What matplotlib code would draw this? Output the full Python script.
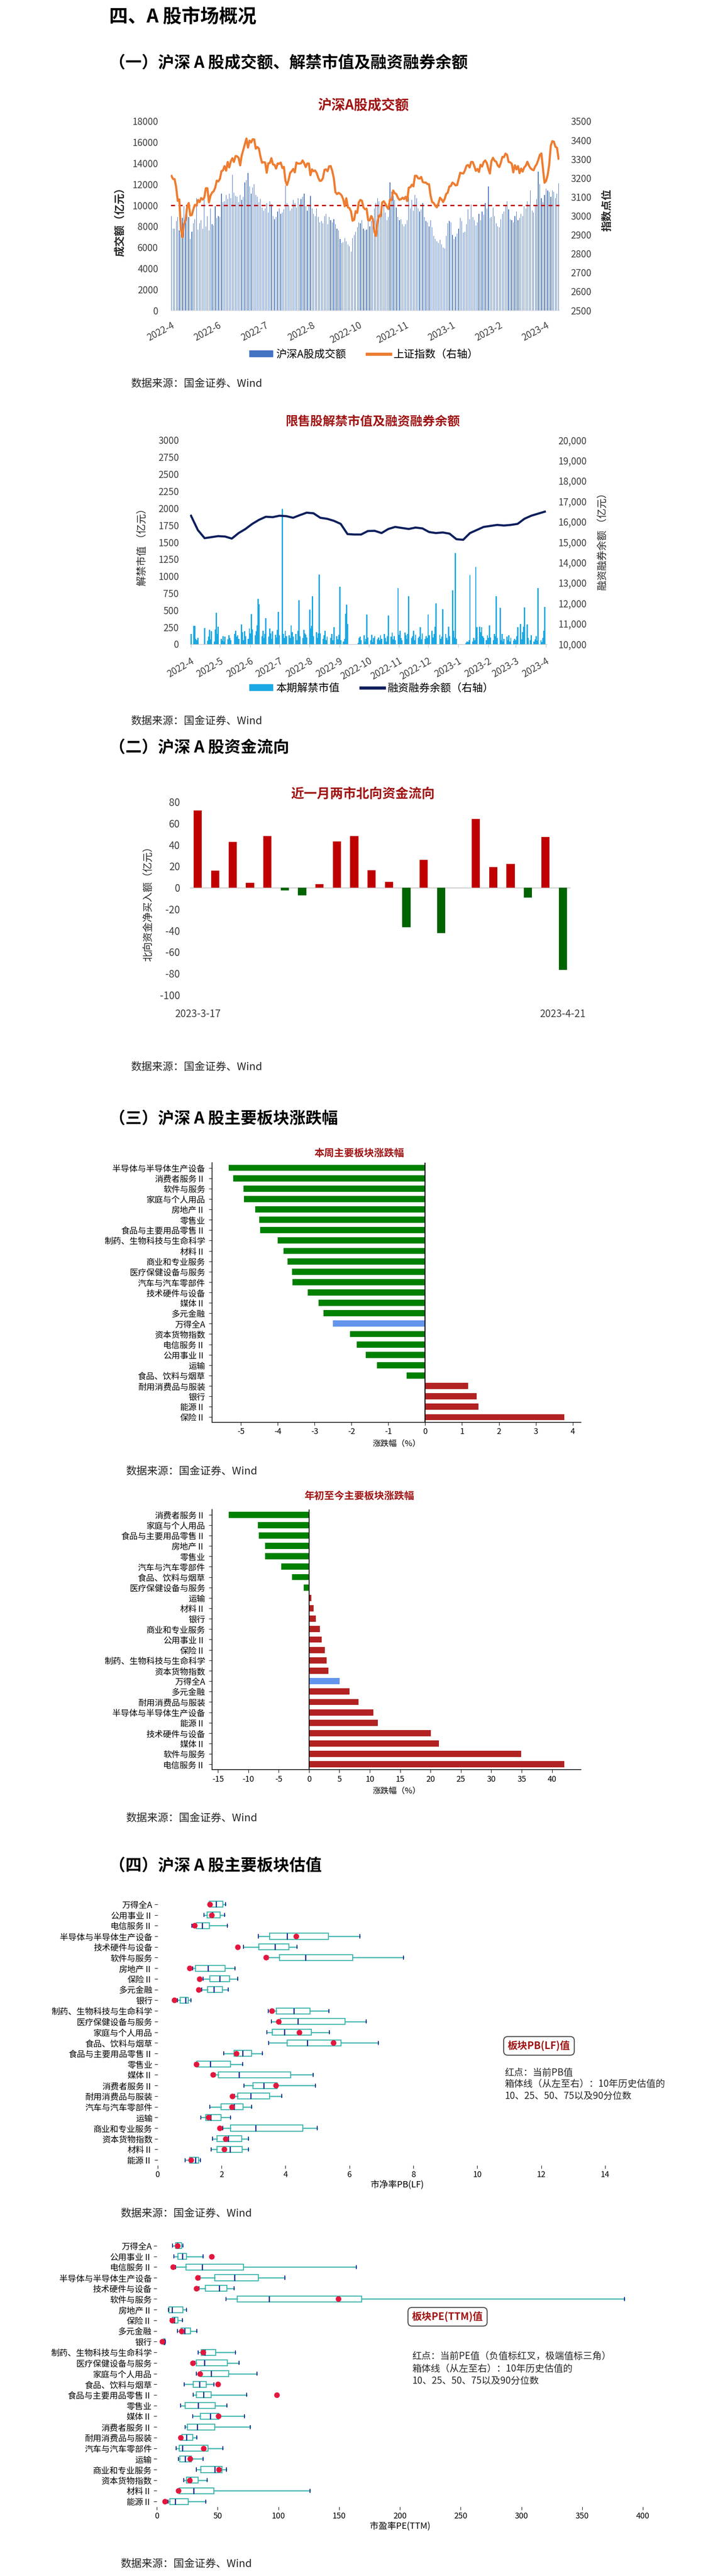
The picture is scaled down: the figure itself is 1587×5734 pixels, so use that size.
import numpy as np
import pandas as pd
import matplotlib
matplotlib.use("Agg")
import matplotlib.pyplot as plt
from matplotlib.patches import Patch
from matplotlib.lines import Line2D

plt.rcParams['font.family'] = ['Noto Sans CJK SC', 'DejaVu Sans']
plt.rcParams['axes.unicode_minus'] = False

# ---------------- data ----------------
holidays = ['2022-05-02', '2022-05-03', '2022-05-04', '2022-06-03', '2022-09-12',
            '2022-10-03', '2022-10-04', '2022-10-05', '2022-10-06', '2022-10-07',
            '2023-01-02', '2023-01-23', '2023-01-24', '2023-01-25', '2023-01-26',
            '2023-01-27', '2023-04-05']

# A-share daily turnover (100m yuan), 2022-4-15 .. 2023-4-21
vol = [9000, 7800, 7800, 8500, 8900, 7600, 9200, 8800, 9900, 8600, 9700,
       8900, 6800, 7500, 8300, 8700, 10700, 7700, 8300, 8600, 7800, 10800, 8000, 9000, 7600, 9700, 8200, 8100, 9900, 8800,
       9000, 8900, 11100, 10300, 10400, 11000, 10600, 11100, 10700, 12900, 11200, 10900, 10800, 10300, 11000, 10500, 10800, 12200, 12400, 13100, 11800,
       11100, 11700, 12000, 11000, 10800, 10300, 10600, 9800, 9500, 9700, 10200, 9300, 10400, 10100, 9000, 8700, 8900, 9400, 9700, 9200, 9300,
       9600, 11900, 10200, 10000, 9500, 9700, 10500, 10200, 9800, 10700, 10100, 10600, 10800, 11100, 9900, 9500, 10000, 10900, 9700, 9200, 9000, 9700, 8900,
       8400, 8500, 8300, 9000, 9200, 8200, 8900, 8600, 8400, 8700, 8200, 7800, 7600, 6800, 6400, 6500, 6900, 6600, 6300, 6100, 5600,
       6900, 7200, 7500, 7900, 8400, 8300, 8600, 7800, 7600, 7700, 8700, 8000, 8500, 9000, 9700, 10200,
       10700, 10400, 9100, 9600, 9900, 9300, 8600, 8900, 12200, 11300, 10900, 10500, 9800, 8900, 8600, 8700, 8200, 8000, 8200, 8600, 10800, 9700,
       10500, 9500, 11000, 10700, 9700, 9400, 9600, 10200, 8900, 8500, 8400, 8000, 8600, 7900, 7100, 6800, 6600, 6400, 6700, 6300, 6000, 5900,
       7100, 8300, 8500, 8400, 7200, 6800, 7000, 7300, 7800, 8800, 8500, 7400, 7500, 8200, 9600, 8700,
       10100, 8900, 8600, 8100, 8400, 9200, 8600, 9400, 9100, 10200, 9700, 11800, 8800, 8900, 9800, 9000, 8300, 8000, 7900, 8700,
       9200, 9400, 10000, 10400, 9600, 8700, 8600, 8400, 9000, 9400, 8600, 8800, 9200, 9000, 9900, 9700, 10400, 9900, 11400, 9500, 9300, 10000, 10600,
       13200, 12000, 10700, 10300, 11000, 11600, 11400, 11300, 10800, 11400, 11300, 10700, 11100, 12100]

# Shanghai composite close
sse = [3211, 3195, 3194, 3151, 3079, 3087, 2929, 2886, 2958, 2975, 3047,
       3068, 3002, 3004, 3035, 3058, 3054, 3084, 3073, 3094, 3086, 3096, 3146, 3146, 3071, 3107, 3123, 3130, 3149, 3186,
       3182, 3195, 3236, 3241, 3263, 3239, 3285, 3256, 3288, 3305, 3285, 3316, 3315, 3307, 3267, 3320, 3349, 3379, 3409, 3361, 3398,
       3388, 3405, 3404, 3355, 3364, 3356, 3313, 3281, 3284, 3282, 3228, 3278, 3279, 3305, 3272, 3270, 3250, 3277, 3275, 3282, 3253,
       3259, 3186, 3163, 3189, 3227, 3236, 3248, 3230, 3282, 3277, 3276, 3278, 3293, 3278, 3258, 3277, 3277, 3215, 3246, 3236, 3240, 3227, 3202,
       3185, 3186, 3199, 3243, 3246, 3236, 3262, 3263, 3237, 3199, 3126, 3115, 3122, 3117, 3108, 3088, 3051, 3093, 3045, 3041, 3024,
       2974, 2979, 3025, 3016, 3071, 3084, 3080, 3044, 3035, 3038, 2977, 2976, 2999, 2982, 2916, 2893,
       2969, 3003, 2997, 3071, 3077, 3064, 3048, 3036, 3087, 3083, 3134, 3120, 3115, 3097, 3085, 3088, 3096, 3089, 3101, 3078, 3149, 3151,
       3165, 3156, 3212, 3212, 3199, 3197, 3206, 3179, 3176, 3176, 3168, 3167, 3107, 3073, 3068, 3054, 3045, 3065, 3096, 3087, 3073, 3089,
       3116, 3123, 3155, 3158, 3176, 3170, 3161, 3163, 3195, 3228, 3225, 3224, 3240, 3265, 3269, 3256,
       3285, 3285, 3263, 3238, 3248, 3232, 3270, 3261, 3284, 3293, 3280, 3249, 3224, 3290, 3307, 3291, 3287, 3267, 3258, 3280,
       3312, 3310, 3329, 3323, 3285, 3283, 3276, 3230, 3268, 3246, 3263, 3226, 3250, 3234, 3256, 3265, 3286, 3266, 3252, 3245, 3241, 3261, 3273,
       3296, 3322, 3330, 3250, 3175, 3185, 3215, 3270, 3370, 3395, 3392, 3365, 3360, 3302]

# lifted restricted shares (100m yuan), 2022-4-22 .. 2023-4-21
unlock = [150, 270, 270, 80, 60, 90,
          0, 240, 50, 110, 210, 70, 190, 40, 220, 465, 150, 260, 80, 50, 120, 40, 110, 70, 130,
          90, 60, 150, 200, 110, 130, 80, 290, 180, 60, 190, 120, 80, 230, 160, 445, 220, 130, 190, 280, 666,
          590, 120, 200, 90, 150, 380, 110, 230, 160, 80, 190, 140, 100, 210, 474, 130, 1990, 150, 90, 200, 120,
          130, 90, 280, 180, 110, 150, 60, 200, 645, 120, 90, 210, 160, 140, 100, 510, 230, 270, 710, 120, 180, 90, 160,
          1025, 160, 80, 130, 200, 60, 110, 90, 150, 60, 250, 120, 70, 140, 849, 60, 40, 80, 451, 580, 300,
          0, 20, 90, 110, 60, 130, 40, 80, 436, 100, 60, 140, 30, 90, 120, 70,
          100, 60, 130, 80, 150, 90, 40, 120, 424, 110, 170, 70, 120, 60, 828, 140, 200, 90, 60, 170, 130, 80,
          150, 704, 90, 120, 200, 60, 140, 90, 110, 250, 70, 160, 80, 120, 90, 436, 130, 200, 100, 150, 260, 604,
          140, 80, 110, 513, 150, 90, 60, 260, 120, 790, 200, 100, 1344, 80, 20, 40,
          30, 60, 1020, 40, 90, 60, 1137, 250, 260, 180, 250, 120, 90, 60, 130, 90, 280, 100, 60, 150,
          120, 710, 90, 533, 60, 150, 40, 80, 110, 60, 130, 40, 90, 50, 80, 60, 120, 250, 300, 70, 180, 260, 542,
          290, 90, 60, 130, 40, 70, 120, 50, 828, 60, 30, 90, 200, 548]

# margin balance, weekly (Fridays)
margin = [16300, 15600, 15200, 15250, 15300, 15280, 15180, 15450, 15650, 15900, 16100, 16250, 16230,
          16300, 16280, 16200, 16330, 16450, 16420, 16200, 16150, 16050, 15900, 15400, 15380, 15380,
          15550, 15560, 15450, 15650, 15750, 15700, 15650, 15720, 15680, 15500, 15450, 15480, 15420,
          15150, 15120, 15450, 15600, 15750, 15800, 15850, 15820, 15850, 15900, 16150, 16300, 16400, 16500]

nb_flow = [71.9, 15.9, 42.7, 4.7, 48.1, -2.4, -7.1, 3.6, 43.3, 48.1, 16.3,
           5.6, -36.7, 26.2, -42.1, 0.0, 64.2, 19.1, 22.3, -9.2, 47.2, -76.6]
nb_labels = ['2023-3-17', '2023-4-21']

week_labels = ['半导体与半导体生产设备', '消费者服务Ⅱ', '软件与服务', '家庭与个人用品', '房地产Ⅱ', '零售业',
               '食品与主要用品零售Ⅱ', '制药、生物科技与生命科学', '材料Ⅱ', '商业和专业服务', '医疗保健设备与服务',
               '汽车与汽车零部件', '技术硬件与设备', '媒体Ⅱ', '多元金融', '万得全A', '资本货物指数', '电信服务Ⅱ',
               '公用事业Ⅱ', '运输', '食品、饮料与烟草', '耐用消费品与服装', '银行', '能源Ⅱ', '保险Ⅱ']
week_chg = [-5.33, -5.21, -4.93, -4.92, -4.62, -4.50, -4.48, -4.01, -3.85, -3.74, -3.61, -3.60, -3.19,
            -2.89, -2.76, -2.51, -2.04, -1.86, -1.62, -1.31, -0.50, 1.17, 1.40, 1.45, 3.77]

ytd_labels = ['消费者服务Ⅱ', '家庭与个人用品', '食品与主要用品零售Ⅱ', '房地产Ⅱ', '零售业', '汽车与汽车零部件',
              '食品、饮料与烟草', '医疗保健设备与服务', '运输', '材料Ⅱ', '银行', '商业和专业服务', '公用事业Ⅱ',
              '保险Ⅱ', '制药、生物科技与生命科学', '资本货物指数', '万得全A', '多元金融', '耐用消费品与服装',
              '半导体与半导体生产设备', '能源Ⅱ', '技术硬件与设备', '媒体Ⅱ', '软件与服务', '电信服务Ⅱ']
ytd_chg = [-13.2, -8.44, -8.24, -7.24, -7.22, -4.57, -2.83, -0.84, 0.40, 0.75, 1.14, 1.79, 2.09,
           2.58, 2.93, 3.23, 5.07, 6.70, 8.13, 10.57, 11.32, 20.05, 21.4, 34.9, 42.0]

val_labels = ['万得全A', '公用事业Ⅱ', '电信服务Ⅱ', '半导体与半导体生产设备', '技术硬件与设备', '软件与服务',
              '房地产Ⅱ', '保险Ⅱ', '多元金融', '银行', '制药、生物科技与生命科学', '医疗保健设备与服务',
              '家庭与个人用品', '食品、饮料与烟草', '食品与主要用品零售Ⅱ', '零售业', '媒体Ⅱ', '消费者服务Ⅱ',
              '耐用消费品与服装', '汽车与汽车零部件', '运输', '商业和专业服务', '资本货物指数', '材料Ⅱ', '能源Ⅱ']

pb_p10 = [1.60, 1.46, 1.08, 3.15, 2.69, 3.46, 1.10, 1.42, 1.38, 0.63, 3.46, 3.56, 3.42, 3.48, 2.07, 1.18, 1.80, 2.70, 2.41, 1.63, 1.36, 2.05, 1.72, 1.68, 0.86]
pb_p25 = [1.62, 1.55, 1.22, 3.50, 3.17, 3.81, 1.19, 1.64, 1.57, 0.71, 3.72, 3.85, 3.59, 4.05, 2.39, 1.23, 1.90, 2.98, 2.51, 1.99, 1.51, 2.28, 1.86, 1.86, 1.01]
pb_p50 = [1.84, 1.72, 1.40, 4.05, 3.67, 4.63, 1.58, 1.94, 1.76, 0.88, 4.27, 4.39, 3.97, 4.68, 2.66, 1.65, 2.55, 3.32, 2.91, 2.40, 1.66, 3.07, 2.21, 2.27, 1.19]
pb_p75 = [2.04, 1.96, 1.62, 5.35, 4.11, 6.10, 2.11, 2.25, 2.03, 0.96, 4.77, 5.87, 4.81, 5.74, 2.94, 2.28, 4.17, 3.75, 3.50, 2.68, 1.99, 4.55, 2.64, 2.65, 1.28]
pb_p90 = [2.13, 2.10, 2.18, 6.33, 4.36, 7.70, 2.43, 2.51, 2.22, 1.04, 5.36, 6.52, 5.38, 6.91, 3.28, 2.66, 4.87, 4.94, 3.89, 2.95, 2.28, 5.00, 2.84, 2.84, 1.34]
pb_now = [1.63, 1.69, 1.16, 4.33, 2.51, 3.40, 1.01, 1.32, 1.29, 0.53, 3.58, 3.79, 4.43, 5.50, 2.47, 1.22, 1.74, 3.70, 2.34, 2.32, 1.59, 1.95, 2.13, 2.09, 1.05]

pe_p10 = [12.8, 13.9, 15.4, 35.6, 34.6, 57.0, 9.6, 11.1, 16.9, 5.3, 34.1, 31.4, 32.6, 22.4, 30.1, 19.6, 29.4, 23.3, 20.7, 16.0, 17.7, 32.4, 22.0, 18.6, 9.4]
pe_p25 = [15.6, 17.5, 24.1, 47.6, 39.9, 66.1, 10.0, 12.8, 20.1, 5.5, 36.7, 32.4, 36.3, 30.1, 32.6, 23.3, 35.8, 25.2, 20.7, 18.6, 18.8, 36.3, 24.3, 18.6, 10.7]
pe_p50 = [17.1, 20.9, 37.3, 63.8, 51.4, 92.4, 12.4, 14.5, 23.0, 6.2, 39.5, 39.2, 44.8, 35.2, 38.4, 34.1, 43.9, 33.1, 24.5, 20.9, 23.3, 47.6, 27.7, 30.3, 15.1]
pe_p75 = [20.3, 24.5, 71.2, 83.6, 57.8, 168.7, 21.3, 17.5, 27.7, 6.6, 48.6, 58.2, 59.3, 40.7, 44.6, 48.2, 51.0, 47.6, 29.4, 42.0, 28.4, 53.5, 34.1, 46.9, 25.8]
pe_p90 = [21.3, 38.0, 164.3, 105.2, 63.6, 385.0, 24.5, 20.9, 32.8, 7.0, 64.6, 67.8, 82.3, 47.1, 74.0, 57.8, 72.1, 76.8, 32.8, 54.2, 38.0, 57.2, 41.4, 125.9, 40.3]
pe_now = [17.1, 45.0, 13.2, 33.5, 32.6, 149.3, np.nan, 12.6, 20.5, 4.5, 38.0, 29.4, 35.6, 50.3, 98.8, np.nan, 50.8, np.nan, 19.6, 38.6, 27.3, 51.0, 27.1, 17.9, 6.8]

# ---------------- layout helpers (pixel coords, y from top) ----------------
W, H = 1587, 5734
fig = plt.figure(figsize=(W / 100, H / 100), dpi=100)

DARKRED = '#A01414'
TXT = '#262626'


def add_ax(l, t, r, b):
    return fig.add_axes([l / W, 1 - b / H, (r - l) / W, (b - t) / H])


def ftext(x, y, s, **kw):
    kw.setdefault('va', 'center')
    kw.setdefault('color', TXT)
    return fig.text(x / W, 1 - y / H, s, **kw)


def source(x, y):
    ftext(x, y, '数据来源：国金证券、Wind', fontsize=17)


def fig_legend(ax, handles, labels, x, y):
    ax.legend(handles, labels, loc='center', bbox_to_anchor=(x / W, 1 - y / H),
              bbox_transform=fig.transFigure, ncol=2, frameon=False, fontsize=17,
              handlelength=2.2, handleheight=0.55, columnspacing=2.0, handletextpad=0.3)


days = pd.bdate_range('2022-04-15', '2023-04-21')
days = days[~days.isin(pd.to_datetime(holidays))]

# ---------------- headings ----------------
ftext(243, 37, '四、A 股市场概况', fontsize=30, weight='bold', color='black')
ftext(243, 141, '（一）沪深 A 股成交额、解禁市值及融资融券余额', fontsize=26, weight='bold', color='black')
ftext(243, 1664, '（二）沪深 A 股资金流向', fontsize=26, weight='bold', color='black')
ftext(243, 2490, '（三）沪深 A 股主要板块涨跌幅', fontsize=26, weight='bold', color='black')
ftext(243, 4153, '（四）沪深 A 股主要板块估值', fontsize=26, weight='bold', color='black')

# ---------------- chart 1: turnover + index ----------------
ftext(808, 235, '沪深A股成交额', fontsize=22, weight='bold', color=DARKRED, ha='center')
ax = add_ax(380, 270, 1245, 691)
x1 = np.arange(len(vol))
ax.bar(x1, vol, width=0.35, color='#4472C4', linewidth=0)
ax.axhline(10000, color='#C00000', lw=2.2, ls=(0, (3, 2.5)), zorder=4)
ax.set_xlim(-0.5, len(vol) - 0.5)
ax.set_ylim(0, 18000)
ax.set_yticks(np.arange(0, 18001, 2000))
tick_idx = np.arange(0, len(vol), 30)
ax.set_xticks(tick_idx)
ax.set_xticklabels([f'{d.year}-{d.month}' for d in days[tick_idx]], rotation=28,
                   ha='right', rotation_mode='anchor')
for s in ['top', 'left', 'right']:
    ax.spines[s].set_visible(False)
ax.spines['bottom'].set_color('#D9D9D9')
ax.tick_params(axis='both', length=0, labelsize=15, labelcolor='#404040')
ax.tick_params(axis='y', pad=20)
ax.tick_params(axis='x', pad=16)
axr = ax.twinx()
axr.plot(x1, sse, color='#ED7D31', lw=3.4)
axr.set_ylim(2500, 3500)
axr.set_yticks(np.arange(2500, 3501, 100))
for s in axr.spines.values():
    s.set_visible(False)
axr.tick_params(length=0, labelsize=15, pad=18, labelcolor='#404040')
ftext(268, 488, '成交额（亿元）', fontsize=17, weight='bold', rotation=90, ha='center')
ftext(1351, 468, '指数点位', fontsize=17, weight='bold', rotation=90, ha='center')
fig_legend(axr, [Patch(color='#4472C4'), Line2D([], [], color='#ED7D31', lw=5)],
           ['沪深A股成交额', '上证指数（右轴）'], 810, 789)
source(291, 854)

# ---------------- chart 2: unlock + margin ----------------
ftext(830, 939, '限售股解禁市值及融资融券余额', fontsize=20, weight='bold', color=DARKRED, ha='center')
ax = add_ax(423, 980, 1217, 1434)
days2 = days[days >= pd.Timestamp('2022-04-22')]
ax.bar(days2, unlock, width=1.3, color='#1CA8E3', linewidth=0)
ax.set_ylim(0, 3000)
ax.set_yticks(np.arange(0, 3001, 250))
ax.set_xlim(pd.Timestamp('2022-04-21'), pd.Timestamp('2023-04-23'))
ticks2 = pd.date_range('2022-04-22', periods=13, freq=pd.DateOffset(months=1))
ax.set_xticks(ticks2)
ax.set_xticklabels([f'{d.year}-{d.month}' for d in ticks2], rotation=30,
                   ha='right', rotation_mode='anchor')
for s in ['top', 'left', 'right']:
    ax.spines[s].set_visible(False)
ax.spines['bottom'].set_color('#BFBFBF')
ax.tick_params(axis='x', length=5, color='#BFBFBF', labelsize=15, pad=14, labelcolor='#404040')
ax.tick_params(axis='y', length=0, labelsize=15, pad=18, labelcolor='#404040')
axr = ax.twinx()
margin_days = pd.date_range('2022-04-22', '2023-04-21', freq='W-FRI')
axr.plot(margin_days, margin, color='#0D1F5C', lw=3.4)
axr.set_ylim(10000, 20000)
axr.set_yticks(np.arange(10000, 20001, 1000))
axr.set_yticklabels([f'{v:,}' for v in range(10000, 20001, 1000)])
for s in axr.spines.values():
    s.set_visible(False)
axr.tick_params(length=0, labelsize=15, pad=18, labelcolor='#404040')
ftext(316, 1213, '解禁市值 （亿元）', fontsize=16, rotation=90, ha='center')
ftext(1341, 1200, '融资融券余额 （亿元）', fontsize=16, rotation=90, ha='center')
fig_legend(axr, [Patch(color='#1CA8E3'), Line2D([], [], color='#0D1F5C', lw=5)],
           ['本期解禁市值', '融资融券余额（右轴）'], 827, 1532)
source(291, 1605)

# ---------------- chart 3: northbound flow ----------------
ftext(808, 1767, '近一月两市北向资金流向', fontsize=21, weight='bold', color=DARKRED, ha='center')
ax = add_ax(423, 1785, 1270, 2215)
x3 = np.arange(len(nb_flow))
ax.bar(x3, nb_flow, width=0.47, color=['#C00000' if v >= 0 else '#006400' for v in nb_flow], zorder=2)
ax.axhline(0, color='#D9D9D9', lw=2.2, zorder=1)
ax.set_xlim(-0.45, len(nb_flow) - 0.55)
ax.set_ylim(-100, 80)
ax.set_yticks(np.arange(-100, 81, 20))
ax.set_xticks([0, len(nb_flow) - 1])
ax.set_xticklabels(nb_labels)
for s in ax.spines.values():
    s.set_visible(False)
ax.tick_params(length=0, labelsize=16, labelcolor='#404040')
ax.tick_params(axis='y', pad=16)
ax.tick_params(axis='x', pad=22)
ftext(329, 2007, '北向资金净买入额（亿元）', fontsize=16, rotation=90, ha='center')
source(291, 2375)


# ---------------- sector bar charts ----------------
def sector_bars(top, bottom, labels, vals, title, title_y, ticks):
    ftext(800, title_y, title, fontsize=16, weight='bold', color=DARKRED, ha='center')
    ax = add_ax(472, top, 1293, bottom)
    y = np.arange(len(vals))
    cols = ['#6495ED' if l == '万得全A' else ('#B22222' if v > 0 else '#008000')
            for l, v in zip(labels, vals)]
    ax.barh(y, vals, height=0.6, color=cols)
    ax.set_ylim(len(vals) - 0.5, -0.5)
    ax.margins(x=0.05)
    ax.axvline(0, color='black', lw=1.5)
    ax.set_yticks(y)
    ax.set_yticklabels(labels)
    ax.set_xticks(ticks)
    ax.spines['top'].set_visible(False)
    ax.spines['right'].set_visible(False)
    for s in ['left', 'bottom']:
        ax.spines[s].set_linewidth(1.2)
    ax.tick_params(axis='y', labelsize=13.5, length=5, pad=6)
    ax.tick_params(axis='x', labelsize=13, length=5, pad=4)
    ax.set_xlabel('涨跌幅（%）', fontsize=13, labelpad=6)
    return ax


sector_bars(2588, 3166, week_labels, week_chg, '本周主要板块涨跌幅', 2568, np.arange(-5, 5, 1))
source(280, 3275)
sector_bars(3360, 3939, ytd_labels, ytd_chg, '年初至今主要板块涨跌幅', 3330, np.arange(-15, 41, 5))
source(280, 4047)


# ---------------- valuation box plots ----------------
def val_box(rect, p10, p25, p50, p75, p90, now, xmax, xticks, xlabel):
    ax = add_ax(*rect)
    stats = [dict(whislo=a, q1=b, med=c, q3=d, whishi=e)
             for a, b, c, d, e in zip(p10, p25, p50, p75, p90)]
    y = np.arange(len(stats))
    kw = dict(positions=y, widths=0.55, showfliers=False, patch_artist=True, manage_ticks=False,
              capwidths=0.3,
              boxprops=dict(facecolor='white', edgecolor='#3DB5AD', linewidth=1.6),
              medianprops=dict(color='#0B1F8A', linewidth=1.8),
              whiskerprops=dict(color='#3DB5AD', linewidth=1.8),
              capprops=dict(color='#0B1F8A', linewidth=1.4))
    try:
        ax.bxp(stats, orientation='horizontal', **kw)
    except TypeError:
        ax.bxp(stats, vert=False, **kw)
    ax.plot(now, y, 'o', color='#E3173E', ms=8, zorder=5)
    ax.set_ylim(len(stats) - 0.5, -0.5)
    ax.set_xlim(0, xmax)
    ax.set_xticks(xticks)
    ax.set_yticks(y)
    ax.set_yticklabels(val_labels)
    for s in ax.spines.values():
        s.set_visible(False)
    ax.tick_params(axis='y', labelsize=13.5, length=5, pad=3)
    ax.tick_params(axis='x', labelsize=13, length=5, pad=4)
    ax.set_xlabel(xlabel, fontsize=14, labelpad=2)
    return ax


val_box((350.5, 4227, 1418, 4820), pb_p10, pb_p25, pb_p50, pb_p75, pb_p90, pb_now,
        15, np.arange(0, 15, 2), '市净率PB(LF)')
box = dict(boxstyle='round,pad=0.4', fc='white', ec='#404040', lw=1.5)
ftext(1130, 4554, '板块PB(LF)值', fontsize=16, weight='bold', color=DARKRED, bbox=box)
ftext(1123, 4614, '红点：当前PB值', fontsize=15)
ftext(1123, 4640, '箱体线（从左至右）：10年历史估值的', fontsize=15)
ftext(1123, 4666, '10、25、50、75以及90分位数', fontsize=15)
source(268, 4927)

val_box((349, 4987, 1431, 5580), pe_p10, pe_p25, pe_p50, pe_p75, pe_p90, pe_now,
        400, np.arange(0, 401, 50), '市盈率PE(TTM)')
ftext(917, 5157, '板块PE(TTM)值', fontsize=16, weight='bold', color=DARKRED, bbox=box)
ftext(917, 5246, '红点：当前PE值（负值标红叉，极端值标三角）', fontsize=15)
ftext(917, 5274, '箱体线（从左至右）：10年历史估值的', fontsize=15)
ftext(917, 5300, '10、25、50、75以及90分位数', fontsize=15)
source(268, 5707)

fig.savefig('out.png', dpi=100)
